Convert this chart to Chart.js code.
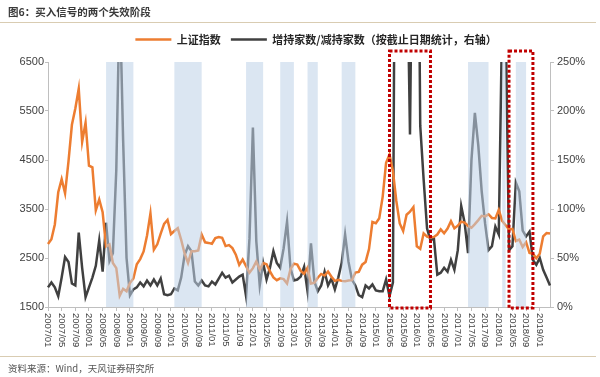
<!DOCTYPE html>
<html>
<head>
<meta charset="utf-8">
<script src="https://cdn.jsdelivr.net/npm/chart.js@4"></script>
<style>
  body { margin: 0; background: #fff; }
  #box { position: relative; width: 600px; height: 377px; overflow: hidden; }
  #title { position: absolute; left: 8px; top: 4px; font: bold 10.5px "Noto Sans CJK SC"; color: #3a3a3a; }
  #topline { position: absolute; left: 0; top: 22px; width: 596px; border-top: 1px solid #d9ccb2; }
  #botline { position: absolute; left: 0; top: 356px; width: 596px; border-top: 1px solid #d9ccb2; }
  #source { position: absolute; left: 8px; top: 361px; font: 9.5px "Noto Sans CJK SC"; color: #555; }
  canvas { position: absolute; left: 0; top: 0; }
</style>
</head>
<body>
<div id="box">
  <canvas id="grafico" width="600" height="377"></canvas>
  <div id="title">图6：买入信号的两个失效阶段</div>
  <div id="topline"></div>
  <div id="botline"></div>
  <div id="source">资料来源：Wind，天风证券研究所</div>
</div>
<script>
// months 2007/01 .. 2019/04
const meses = [];
for (let y = 2007; y <= 2019; y++) {
  for (let m = 1; m <= 12; m++) {
    if (y === 2019 && m > 4) break;
    meses.push(y + '/' + String(m).padStart(2, '0'));
  }
}

// 上证指数 (monthly close)
const shIndex = [
  2786, 2881, 3184, 3841, 4110, 3821, 4471, 5219, 5552, 5955, 4872, 5262,
  4383, 4349, 3473, 3693, 3433, 2736, 2776, 2397, 2294, 1729, 1871, 1821,
  1991, 2083, 2373, 2478, 2633, 2959, 3412, 2668, 2779, 2996, 3195, 3277,
  2989, 3052, 3109, 2871, 2592, 2398, 2638, 2639, 2656, 2979, 2820, 2808,
  2791, 2905, 2928, 2912, 2743, 2762, 2702, 2567, 2359, 2468, 2333, 2199,
  2293, 2428, 2263, 2396, 2372, 2225, 2104, 2048, 2086, 2069, 1980, 2269,
  2385, 2366, 2237, 2178, 2301, 1979, 1994, 2098, 2175, 2142, 2221, 2116,
  2033, 2056, 2033, 2026, 2039, 2048, 2202, 2217, 2364, 2420, 2683, 3235,
  3210, 3310, 3748, 4442, 4612, 4277, 3664, 3206, 3053, 3383, 3445, 3539,
  2738, 2688, 3004, 2938, 2917, 2930, 2979, 3085, 3005, 3100, 3250, 3104,
  3159, 3242, 3223, 3155, 3117, 3192, 3273, 3361, 3349, 3393, 3317, 3307,
  3481, 3259, 3169, 3082, 3095, 2847, 2876, 2725, 2821, 2603, 2588, 2494,
  2585, 2941, 3010, 3000
];

// 增持家数/减持家数 (%), values above 250 run off the top
const ratio = [
  20, 25, 20, 11, 30, 51, 46, 24, 22, 76, 40, 10,
  20, 30, 42, 68, 36, 86, 47, 55, 140, 320, 170, 50,
  12, 18, 20, 25, 21, 27, 22, 28, 22, 29, 13, 12,
  13, 19, 17, 30, 53, 62, 57, 26, 22, 27, 22, 21,
  26, 23, 29, 35, 30, 32, 25, 28, 31, 33, 11, 70,
  183, 67, 22, 45, 28, 40, 57, 45, 40, 60, 87, 40,
  27, 28, 31, 41, 16, 65, 26, 16, 22, 36, 22, 29,
  18, 30, 45, 74, 46, 28, 22, 12, 10, 22, 19, 23,
  17, 16, 16, 28, 11, 25, 700, 800, 700, 400, 176, 500,
  600, 185, 130, 80, 68, 70, 33, 35, 40, 36, 48, 38,
  58, 103, 86, 55, 150, 198, 165, 118, 85, 58, 62, 82,
  74, 300, 300, 58, 62, 127, 118, 78, 72, 77, 48, 43,
  50, 38, 30, 22
];

const leftTicks = [1500, 2500, 3500, 4500, 5500, 6500];
const rightTicks = [0, 50, 100, 150, 200, 250];

// shaded phases and the two failure windows (start, end month)
const blueBands = [
  ['2008/06', '2009/02'], ['2010/02', '2010/10'], ['2011/11', '2012/04'],
  ['2012/09', '2013/01'], ['2013/05', '2013/08'], ['2014/03', '2014/07'],
  ['2017/04', '2017/10'], ['2018/02', '2018/03'], ['2018/06', '2018/09']
];
const redBoxes = [['2015/05', '2016/05'], ['2018/04', '2018/11']];

const eixo = '#bfbfbf';
const fonteNum = { family: 'Liberation Sans', size: 11 };

const faixas = {
  id: 'faixas',
  afterDatasetsDraw(chart) {
    const { ctx, chartArea: a, scales: { x } } = chart;
    ctx.save();
    ctx.fillStyle = 'rgba(190, 209, 231, 0.55)';
    blueBands.forEach(([s, e]) => {
      const x1 = x.getPixelForValue(meses.indexOf(s));
      const x2 = x.getPixelForValue(meses.indexOf(e));
      ctx.fillRect(x1, a.top, x2 - x1, a.bottom - a.top);
    });
    ctx.restore();
  },
  afterDraw(chart) {
    const { ctx, chartArea: a, scales: { x } } = chart;
    ctx.save();
    // x labels, rotated clockwise
    ctx.fillStyle = '#404040';
    ctx.font = '9.5px "Liberation Sans"';
    ctx.textAlign = 'left';
    ctx.textBaseline = 'middle';
    meses.forEach((m, i) => {
      if (i % 4 !== 0) return;
      ctx.save();
      ctx.translate(x.getPixelForValue(i), a.bottom + 6);
      ctx.rotate(Math.PI / 2);
      ctx.fillText(m, 0, 0);
      ctx.restore();
    });
    // red dotted boxes
    ctx.strokeStyle = '#c00000';
    ctx.lineWidth = 3;
    ctx.setLineDash([3, 2]);
    redBoxes.forEach(([s, e]) => {
      const x1 = x.getPixelForValue(meses.indexOf(s));
      const x2 = x.getPixelForValue(meses.indexOf(e));
      ctx.strokeRect(x1, a.top - 11, x2 - x1, a.bottom - a.top + 12);
    });
    ctx.restore();
  }
};

const ctx = document.getElementById('grafico').getContext('2d');
const grafico = new Chart(ctx, {
  type: 'line',
  data: {
    labels: meses,
    datasets: [{
      label: '上证指数',
      data: shIndex,
      yAxisID: 'y',
      borderColor: '#ed7d31',
      backgroundColor: '#ed7d31',
      borderWidth: 2.5,
      pointRadius: 0,
      tension: 0
    }, {
      label: '增持家数/减持家数（按截止日期统计，右轴）',
      data: ratio,
      yAxisID: 'y1',
      borderColor: '#404040',
      backgroundColor: '#404040',
      borderWidth: 2.5,
      pointRadius: 0,
      tension: 0
    }]
  },
  options: {
    responsive: false,
    animation: false,
    // negative right padding only shifts the legend centre to the right
    layout: { padding: { left: 16, right: -16, top: 24, bottom: 30 } },
    plugins: {
      legend: {
        display: true,
        position: 'top',
        labels: {
          usePointStyle: true,
          pointStyle: 'line',
          pointStyleWidth: 36,
          padding: 10,
          color: '#262626',
          font: { family: 'Noto Sans CJK SC', size: 11, weight: 'bold' }
        }
      },
      tooltip: { enabled: false }
    },
    scales: {
      x: {
        type: 'category',
        offset: false,
        ticks: { display: false },
        grid: {
          drawOnChartArea: false,
          tickLength: 4,
          color: (c) => (c.index % 4 === 0 ? eixo : 'rgba(0,0,0,0)')
        },
        border: { color: eixo },
        afterFit(s) { s.height = 40; }
      },
      // empty strip between legend and plot
      xTop: {
        type: 'category',
        position: 'top',
        ticks: { display: false },
        grid: { display: false },
        border: { display: false },
        afterFit(s) { s.height = 7; }
      },
      y: {
        position: 'left',
        min: 1500,
        max: 6500,
        afterBuildTicks(s) { s.ticks = leftTicks.map(v => ({ value: v })); },
        ticks: { color: '#404040', font: fonteNum, padding: 1, callback: v => String(v) },
        grid: { drawOnChartArea: false, tickLength: 3, color: eixo },
        border: { color: eixo },
        afterFit(s) { s.width = 32; }
      },
      y1: {
        position: 'right',
        min: 0,
        max: 250,
        afterBuildTicks(s) { s.ticks = rightTicks.map(v => ({ value: v })); },
        ticks: { color: '#404040', font: fonteNum, padding: 3, callback: v => v + '%' },
        grid: { drawOnChartArea: false, tickLength: 4, color: eixo },
        border: { color: eixo },
        afterFit(s) { s.width = 66; }
      }
    }
  },
  plugins: [faixas]
});
</script>
</body>
</html>
